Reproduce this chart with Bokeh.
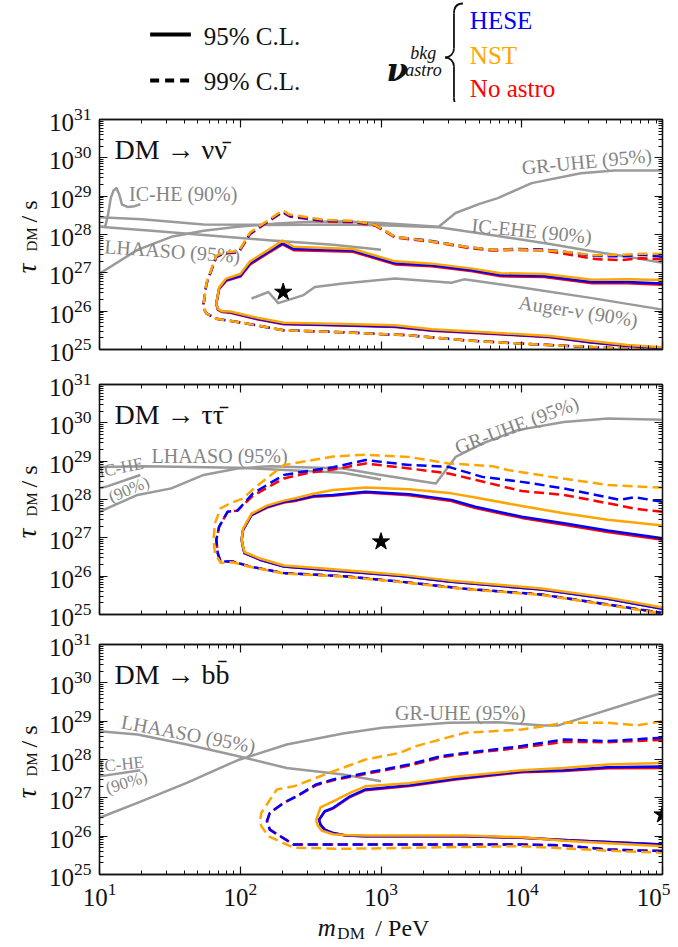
import math
from bokeh.plotting import figure
from bokeh.layouts import column, row
from bokeh.models import Range1d, LogAxis, FixedTicker, CustomJSTickFormatter
from bokeh.embed import file_html
from bokeh.resources import INLINE
from bokeh.core.properties import value

FONT = "Liberation Serif"
C_HESE = "#0000ff"
C_NST = "#ffa500"
C_NOASTRO = "#ff0000"
GREY_LINE = "#9a9a9a"
GREY_TEXT = "#858585"

X_DECADES = [1, 2, 3, 4, 5]          # log10(m_DM / PeV)
Y_DECADES = [25, 26, 27, 28, 29, 30, 31]  # log10(tau_DM / s)

# ---------------- Panel 1: DM -> nu nubar (log10 values) ----------------
NN95_X = [5.0, 4.75, 4.5, 4.16, 3.85, 3.65, 3.36, 3.1, 2.8, 2.6, 2.38, 2.3, 2.2, 2.07, 2.0, 1.9, 1.85, 1.83,
          1.84, 1.87, 1.93, 2.12, 2.31, 2.66, 3.1, 3.36, 3.83, 4.2, 4.49, 4.75, 5.0]
NN95_HESE = [26.72, 26.76, 26.76, 26.92, 26.94, 27.07, 27.20, 27.25, 27.58, 27.60, 27.62, 27.77, 27.55, 27.25, 26.92, 26.81, 26.60, 26.20,
             26.05, 25.99, 25.97, 25.80, 25.67, 25.64, 25.60, 25.50, 25.41, 25.33, 25.19, 25.10, 25.04]
NN95_NOASTRO = [26.69, 26.73, 26.73, 26.89, 26.91, 27.04, 27.17, 27.22, 27.55, 27.57, 27.59, 27.74, 27.52, 27.22, 26.90, 26.79, 26.58, 26.20,
                26.04, 25.98, 25.96, 25.79, 25.66, 25.63, 25.59, 25.49, 25.40, 25.32, 25.18, 25.09, 25.03]
NN95_NST = [26.81, 26.83, 26.82, 26.97, 26.99, 27.11, 27.24, 27.30, 27.62, 27.65, 27.68, 27.84, 27.60, 27.30, 26.97, 26.85, 26.62, 26.20,
            26.06, 26.00, 25.99, 25.83, 25.70, 25.67, 25.63, 25.53, 25.43, 25.35, 25.22, 25.12, 25.06]

NN99_X = [5.0, 4.85, 4.7, 4.52, 4.3, 4.16, 3.95, 3.79, 3.6, 3.36, 3.1, 2.96, 2.8, 2.6, 2.35, 2.3, 2.21, 2.07, 1.99, 1.88, 1.83, 1.76, 1.74,
          1.75, 1.76, 1.83, 1.98, 2.31, 2.73, 3.2, 3.6, 4.0, 4.3, 4.63, 5.0]
NN99_HESE = [27.42, 27.47, 27.43, 27.44, 27.55, 27.61, 27.62, 27.60, 27.68, 27.83, 27.94, 28.25, 28.34, 28.36, 28.49, 28.60, 28.38, 28.03, 27.55, 27.51, 27.42, 26.72, 26.20,
             26.00, 25.94, 25.80, 25.72, 25.50, 25.45, 25.37, 25.24, 25.15, 25.10, 25.04, 24.97]
NN99_NOASTRO = [27.35, 27.38, 27.33, 27.36, 27.50, 27.58, 27.60, 27.58, 27.66, 27.81, 27.92, 28.23, 28.32, 28.34, 28.47, 28.58, 28.36, 28.01, 27.54, 27.50, 27.41, 26.72, 26.20,
                26.00, 25.94, 25.80, 25.72, 25.50, 25.45, 25.37, 25.24, 25.15, 25.10, 25.04, 24.97]
NN99_NST = [27.49, 27.50, 27.47, 27.46, 27.55, 27.59, 27.61, 27.60, 27.68, 27.82, 27.94, 28.25, 28.36, 28.38, 28.52, 28.63, 28.40, 28.05, 27.57, 27.53, 27.44, 26.74, 26.20,
            26.00, 25.94, 25.80, 25.72, 25.50, 25.45, 25.37, 25.24, 25.15, 25.10, 25.04, 24.97]

NN_ICHE_X = [1.0, 1.04, 1.06, 1.08, 1.10, 1.12, 1.14, 1.16, 1.20, 1.25, 1.29]
NN_ICHE_Y = [28.2, 28.2, 28.5, 28.95, 29.15, 29.21, 29.05, 28.78, 28.72, 28.74, 28.79]
NN_ICEHE_X = [1.0, 1.3, 1.74, 2.2, 2.73, 3.0, 3.41, 3.83, 4.2, 4.49, 4.8, 5.0]
NN_ICEHE_Y = [28.45, 28.40, 28.26, 28.25, 28.26, 28.24, 28.19, 27.96, 27.75, 27.57, 27.39, 27.26]
NN_LHAASO_X = [1.0, 1.37, 1.74, 2.2, 2.66, 3.0]
NN_LHAASO_Y = [28.2, 28.1, 27.99, 27.85, 27.73, 27.6]
NN_GRUHE_X = [1.0, 1.27, 1.51, 1.74, 1.98, 2.26, 2.5, 2.73, 3.0, 3.41, 3.53, 3.7, 3.83, 4.07, 4.42, 4.66, 5.0]
NN_GRUHE_Y = [26.98, 27.6, 27.94, 28.10, 28.20, 28.29, 28.33, 28.34, 28.30, 28.20, 28.56, 28.8, 28.95, 29.34, 29.60, 29.67, 29.67]
NN_AUGER_X = [2.08, 2.20, 2.27, 2.45, 2.53, 2.73, 3.10, 3.50, 3.59, 4.0, 4.5, 5.0]
NN_AUGER_Y = [26.33, 26.50, 26.21, 26.42, 26.63, 26.72, 26.85, 26.74, 26.83, 26.62, 26.34, 26.04]
NN_STAR = (2.305, 26.50)

# ---------------- Panel 2: DM -> tau taubar ----------------
TT95_X = [5.0, 4.61, 4.30, 4.0, 3.67, 3.5, 3.2, 2.89, 2.66, 2.52, 2.40, 2.31, 2.19, 2.08, 2.02, 2.01,
          2.02, 2.03, 2.14, 2.31, 2.66, 3.13, 3.48, 4.14, 4.61, 5.0]
TT95_HESE = [26.99, 27.19, 27.38, 27.55, 27.81, 27.99, 28.14, 28.20, 28.12, 28.09, 27.99, 27.94, 27.81, 27.60, 27.21, 26.95,
             26.75, 26.60, 26.43, 26.25, 26.15, 26.01, 25.86, 25.65, 25.41, 25.15]
TT95_NOASTRO = [26.95, 27.15, 27.34, 27.52, 27.78, 27.96, 28.11, 28.18, 28.10, 28.07, 27.97, 27.92, 27.79, 27.59, 27.21, 26.95,
                26.75, 26.60, 26.43, 26.25, 26.15, 26.01, 25.86, 25.65, 25.41, 25.15]
TT95_NST = [27.32, 27.47, 27.64, 27.83, 28.05, 28.16, 28.27, 28.31, 28.25, 28.15, 28.04, 27.97, 27.84, 27.63, 27.24, 26.95,
            26.77, 26.63, 26.46, 26.28, 26.18, 26.04, 25.89, 25.68, 25.44, 25.18]

TT99_X = [5.0, 4.8, 4.70, 4.30, 4.0, 3.72, 3.48, 3.20, 2.89, 2.66, 2.49, 2.31, 2.09, 1.98, 1.91, 1.85, 1.83,
          1.84, 1.86, 1.95, 2.07, 2.31, 2.73, 3.13, 3.60, 4.14, 4.61, 5.0]
TT99_HESE = [27.94, 28.06, 27.99, 28.29, 28.46, 28.59, 28.85, 28.90, 29.03, 28.84, 28.75, 28.64, 28.16, 27.71, 27.68, 27.29, 26.95,
             26.60, 26.38, 26.38, 26.25, 26.08, 26.00, 25.86, 25.67, 25.52, 25.26, 25.04]
TT99_NOASTRO = [27.68, 27.76, 27.84, 28.12, 28.22, 28.47, 28.68, 28.81, 28.94, 28.78, 28.70, 28.55, 28.10, 27.71, 27.68, 27.29, 26.95,
                26.60, 26.38, 26.38, 26.25, 26.08, 26.00, 25.86, 25.67, 25.52, 25.26, 25.04]
TT99_NST_X = [5.0, 4.61, 4.21, 3.90, 3.79, 3.48, 3.20, 2.89, 2.66, 2.31, 2.11, 2.02, 1.93, 1.86, 1.82, 1.81,
              1.82, 1.86, 1.95, 2.07, 2.31, 2.73, 3.13, 3.60, 4.14, 4.61, 5.0]
TT99_NST = [28.31, 28.38, 28.59, 28.77, 28.87, 28.94, 29.11, 29.17, 29.12, 28.90, 28.33, 28.03, 27.90, 27.77, 27.38, 26.95,
            26.60, 26.35, 26.36, 26.24, 26.07, 25.99, 25.85, 25.66, 25.51, 25.25, 25.02]

TT_ICHE_X = [1.0, 1.06, 1.29]
TT_ICHE_Y = [28.29, 28.35, 28.64]
TT_LHAASO_X = [1.0, 1.32, 1.98, 2.73, 3.0]
TT_LHAASO_Y = [28.85, 28.87, 28.83, 28.70, 28.52]
TT_GRUHE_X = [1.0, 1.27, 1.51, 1.74, 1.98, 2.21, 2.73, 3.0, 3.39, 3.53, 3.72, 3.97, 4.30, 4.61, 5.0]
TT_GRUHE_Y = [27.68, 28.12, 28.29, 28.64, 28.81, 28.87, 28.81, 28.64, 28.42, 29.11, 29.46, 29.81, 30.02, 30.11, 30.08]
TT_STAR = (3.0, 26.90)

# ---------------- Panel 3: DM -> b bbar ----------------
BB95_X = [5.0, 4.61, 4.30, 4.0, 3.53, 3.20, 2.89, 2.78, 2.66, 2.60, 2.56,
          2.57, 2.60, 2.66, 2.75, 2.89, 3.60, 4.0, 4.30, 5.0]
BB95_HESE = [27.82, 27.80, 27.72, 27.69, 27.50, 27.33, 27.22, 27.04, 26.74, 26.65, 26.43,
             26.30, 26.17, 26.08, 26.02, 26.00, 26.00, 25.96, 25.90, 25.78]
BB95_NOASTRO = [27.78, 27.77, 27.70, 27.67, 27.48, 27.31, 27.20, 27.02, 26.72, 26.64, 26.43,
                26.30, 26.17, 26.08, 26.02, 26.00, 26.00, 25.96, 25.90, 25.78]
BB95_NST_X = [5.0, 4.61, 4.30, 4.0, 3.53, 3.20, 2.89, 2.78, 2.66, 2.57, 2.54,
              2.55, 2.58, 2.66, 2.75, 2.89, 3.60, 4.0, 4.30, 5.0]
BB95_NST = [27.91, 27.87, 27.78, 27.72, 27.55, 27.38, 27.30, 27.13, 26.91, 26.75, 26.43,
            26.28, 26.14, 26.05, 26.03, 26.02, 26.02, 25.97, 25.88, 25.74]

BB99_X = [5.0, 4.61, 4.30, 4.0, 3.60, 3.43, 3.20, 2.66, 2.54, 2.40, 2.31, 2.21, 2.19,
          2.21, 2.38, 2.73, 4.0, 4.30, 4.61, 5.0]
BB99_HESE = [28.57, 28.48, 28.52, 28.35, 28.17, 28.09, 27.87, 27.48, 27.35, 27.04, 26.87, 26.61, 26.39,
             26.17, 25.78, 25.78, 25.78, 25.76, 25.65, 25.61]
BB99_NOASTRO = [28.51, 28.45, 28.46, 28.31, 28.15, 28.06, 27.84, 27.46, 27.33, 27.04, 26.87, 26.61, 26.39,
                26.17, 25.78, 25.78, 25.78, 25.76, 25.65, 25.61]
BB99_NST_X = [5.0, 4.82, 4.61, 4.30, 4.19, 4.0, 3.60, 3.25, 3.13, 2.89, 2.66, 2.38, 2.26, 2.15, 2.14,
              2.15, 2.20, 2.38, 2.73, 4.0, 4.61, 5.0]
BB99_NST = [29.00, 28.89, 28.96, 28.96, 28.89, 28.78, 28.70, 28.35, 28.17, 28.00, 27.69, 27.30, 27.22, 26.61, 26.40,
            26.26, 26.00, 25.70, 25.67, 25.74, 25.62, 25.57]

BB_ICHE_X = [1.0, 1.29]
BB_ICHE_Y = [27.56, 27.72]
BB_LHAASO_X = [1.0, 1.27, 1.62, 1.98, 2.33, 2.73, 3.0]
BB_LHAASO_Y = [28.74, 28.65, 28.39, 28.09, 27.78, 27.61, 27.43]
BB_GRUHE_X = [1.0, 1.27, 1.62, 1.98, 2.33, 2.73, 3.01, 3.48, 3.83, 4.16, 4.26, 5.0]
BB_GRUHE_Y = [26.48, 26.87, 27.39, 27.98, 28.39, 28.68, 28.83, 28.96, 28.97, 28.89, 28.89, 29.74]
BB_STAR = (5.0, 26.56)

# text annotations: (text, log10 x, log10 y of baseline, angle rad, size)
NN_LABELS = [("IC-HE (90%)", 1.21, 28.90, 0.0, 20), ("LHAASO (95%)", 1.035, 27.55, -0.072, 20),
             ("GR-UHE (95%)", 4.0, 29.60, 0.096, 20), ("IC-EHE (90%)", 3.645, 28.10, -0.097, 20),
             ("Auger-\u03bd (90%)", 3.98, 26.10, -0.155, 20)]
TT_LABELS = [("LHAASO (95%)", 1.37, 28.98, 0.0, 20), ("IC-HE", 0.995, 28.59, 0.2, 17),
             ("(90%)", 1.07, 27.92, 0.4, 17), ("GR-UHE (95%)", 3.53, 29.20, 0.36, 20)]
BB_LABELS = [("LHAASO (95%)", 1.157, 28.85, -0.185, 20), ("IC-HE", 0.995, 27.69, 0.1, 17),
             ("(90%)", 1.047, 27.11, 0.3, 17), ("GR-UHE (95%)", 3.10, 29.07, 0.0, 20)]

TITLES = ["DM \u2192 \u03bd\u03bd\u0304", "DM \u2192 \u03c4\u03c4\u0304", "DM \u2192 bb\u0304"]

# ---------------- layout geometry (pixels) ----------------
LAB_W = 45
BORDER_L = 50
BORDER_R = 8
FRAME_W = 567
W = BORDER_L + FRAME_W + BORDER_R
FRAME_H = 230
PX_PER_DEC_Y = FRAME_H / (Y_DECADES[-1] - Y_DECADES[0])
HDR_H = 102
P_BORDERS = [(17, 17), (18, 15), (15, 38)]
XLAB_H = 31
BASE_SHIFT = 0.28  # svg baseline correction (fraction of font size)


def lin(a):
    return [10.0 ** v for v in a]


def shift_log(size):
    return BASE_SHIFT * size / PX_PER_DEC_Y


def style_axis(ax, show_labels):
    ax.major_tick_in = 8
    ax.major_tick_out = 0
    ax.minor_tick_in = 4
    ax.minor_tick_out = 0
    ax.axis_line_color = "#111111"
    ax.axis_line_width = 1.3
    ax.major_tick_line_color = "#111111"
    ax.minor_tick_line_color = "#111111"
    ax.major_tick_line_width = 1.2
    ax.minor_tick_line_width = 1.0
    ax.major_label_text_font = FONT
    ax.major_label_text_font_size = "25px"
    ax.major_label_text_color = "#111111"
    ax.major_label_standoff = 8
    if not show_labels:
        ax.formatter = CustomJSTickFormatter(code="return ''")
        ax.major_label_standoff = 0


def make_panel(border_top, border_bottom, show_x_labels):
    xt = FixedTicker(ticks=[10.0 ** k for k in X_DECADES],
                     minor_ticks=[m * 10.0 ** k for k in X_DECADES[:-1] for m in range(2, 10)])
    yt = FixedTicker(ticks=[10.0 ** k for k in Y_DECADES],
                     minor_ticks=[m * 10.0 ** k for k in Y_DECADES[:-1] for m in range(2, 10)])
    p = figure(width=W, height=border_top + FRAME_H + border_bottom,
               x_axis_type="log", y_axis_type="log",
               x_range=Range1d(10.0 ** X_DECADES[0], 10.0 ** X_DECADES[-1]),
               y_range=Range1d(10.0 ** Y_DECADES[0], 10.0 ** Y_DECADES[-1]),
               output_backend="svg", toolbar_location=None,
               min_border_left=BORDER_L, min_border_right=BORDER_R,
               min_border_top=border_top, min_border_bottom=border_bottom)
    p.xgrid.visible = False
    p.ygrid.visible = False
    p.outline_line_color = "#111111"
    p.outline_line_width = 1.3
    p.xaxis.ticker = xt
    p.yaxis.ticker = yt
    style_axis(p.xaxis[0], show_x_labels)
    style_axis(p.yaxis[0], True)
    top = LogAxis(ticker=xt)
    right = LogAxis(ticker=yt)
    style_axis(top, False)
    style_axis(right, False)
    p.add_layout(top, "above")
    p.add_layout(right, "right")
    return p


def draw_grey(p, xs, ys):
    p.line(lin(xs), lin(ys), line_color=GREY_LINE, line_width=2.5, line_join="round")


def draw_contour(p, xs, ys, color, dashed):
    p.line(lin(xs), lin(ys), line_color=color, line_width=2.5, line_join="round",
           line_dash="10 5" if dashed else "solid")


def draw_labels(p, labels):
    for txt, lx, ly, ang, size in labels:
        p.text(x=[10.0 ** lx], y=[10.0 ** (ly + shift_log(size))], text=[txt], angle=ang,
               text_font=value(FONT), text_font_size=f"{size}px", text_color=GREY_TEXT,
               text_baseline="alphabetic", text_align="left")


def draw_title(p, title):
    p.text(x=[10.0 ** 1.106], y=[10.0 ** (30.0 + shift_log(28))], text=[title], text_font=value(FONT),
           text_font_size="28px", text_color="#111111", text_baseline="alphabetic")


def draw_star(p, star):
    p.scatter([10.0 ** star[0]], [10.0 ** star[1]], marker="star", size=18, color="black")


def blank_fig(width, height, xr, yr, **kw):
    f = figure(width=width, height=height, x_range=xr, y_range=yr, output_backend="svg",
               toolbar_location=None, x_axis_location=None, y_axis_location=None,
               min_border_left=kw.get("bl", 0), min_border_right=kw.get("br", 0),
               min_border_top=0, min_border_bottom=0, x_axis_type=kw.get("xtype", "linear"))
    f.xgrid.visible = False
    f.ygrid.visible = False
    f.outline_line_color = None
    return f


# ---------- header legend (data coords = page pixels) ----------
hdr = blank_fig(W, HDR_H, Range1d(LAB_W + BORDER_L, LAB_W + BORDER_L + FRAME_W), Range1d(HDR_H, 0),
                bl=BORDER_L, br=BORDER_R)
hdr.line([146, 187], [34, 34], line_color="black", line_width=4)
hdr.line([146, 187], [80, 80], line_color="black", line_width=4, line_dash="9 6")
hdr.text(x=[200, 200], y=[43 - 7, 88 - 7], text=["95% C.L.", "99% C.L."], text_font=value(FONT),
         text_font_size="25px", text_color="#111111", text_baseline="alphabetic")
hdr.text(x=[384], y=[78 - 9], text=["\u03bd"], text_font=value("DejaVu Serif"), text_font_style="bold italic",
         text_font_size="31px", text_color="#111111", text_baseline="alphabetic")
hdr.text(x=[408, 403], y=[57 - 5, 74 - 5], text=["bkg", "astro"], text_font=value(FONT), text_font_style="italic",
         text_font_size="18px", text_color="#111111", text_baseline="alphabetic")
# brace
hdr.bezier(x0=[461, 452, 443, 452], y0=[3, 48, 57, 97], x1=[452, 443, 452, 461], y1=[13, 57, 66, 107],
           cx0=[455, 452, 448, 452], cy0=[3, 53, 57, 103], cx1=[452, 448, 452, 455], cy1=[7, 57, 61, 107],
           line_color="#111111", line_width=1.8)
hdr.segment(x0=[452, 452], y0=[13, 66], x1=[452, 452], y1=[48, 97], line_color="#111111", line_width=1.8)
hdr.text(x=[468, 468, 468], y=[27 - 7, 62 - 7, 95 - 7], text=["HESE", "NST", "No astro"], text_font=value(FONT),
         text_font_size="25px", text_color=[C_HESE, C_NST, C_NOASTRO], text_baseline="alphabetic")

# ---------- panel 1 ----------
p1 = make_panel(*P_BORDERS[0], False)
for xs, ys in [(NN_ICHE_X, NN_ICHE_Y), (NN_ICEHE_X, NN_ICEHE_Y), (NN_LHAASO_X, NN_LHAASO_Y),
               (NN_GRUHE_X, NN_GRUHE_Y), (NN_AUGER_X, NN_AUGER_Y)]:
    draw_grey(p1, xs, ys)
draw_labels(p1, NN_LABELS)
draw_contour(p1, NN95_X, NN95_NOASTRO, C_NOASTRO, False)
draw_contour(p1, NN95_X, NN95_HESE, C_HESE, False)
draw_contour(p1, NN95_X, NN95_NST, C_NST, False)
draw_contour(p1, NN99_X, NN99_NOASTRO, C_NOASTRO, True)
draw_contour(p1, NN99_X, NN99_HESE, C_HESE, True)
draw_contour(p1, NN99_X, NN99_NST, C_NST, True)
draw_star(p1, NN_STAR)
draw_title(p1, TITLES[0])

# ---------- panel 2 ----------
p2 = make_panel(*P_BORDERS[1], False)
for xs, ys in [(TT_ICHE_X, TT_ICHE_Y), (TT_LHAASO_X, TT_LHAASO_Y), (TT_GRUHE_X, TT_GRUHE_Y)]:
    draw_grey(p2, xs, ys)
draw_labels(p2, TT_LABELS)
draw_contour(p2, TT95_X, TT95_NOASTRO, C_NOASTRO, False)
draw_contour(p2, TT95_X, TT95_HESE, C_HESE, False)
draw_contour(p2, TT95_X, TT95_NST, C_NST, False)
draw_contour(p2, TT99_X, TT99_NOASTRO, C_NOASTRO, True)
draw_contour(p2, TT99_X, TT99_HESE, C_HESE, True)
draw_contour(p2, TT99_NST_X, TT99_NST, C_NST, True)
draw_star(p2, TT_STAR)
draw_title(p2, TITLES[1])

# ---------- panel 3 ----------
p3 = make_panel(*P_BORDERS[2], True)
for xs, ys in [(BB_ICHE_X, BB_ICHE_Y), (BB_LHAASO_X, BB_LHAASO_Y), (BB_GRUHE_X, BB_GRUHE_Y)]:
    draw_grey(p3, xs, ys)
draw_labels(p3, BB_LABELS)
draw_contour(p3, BB95_X, BB95_NOASTRO, C_NOASTRO, False)
draw_contour(p3, BB95_X, BB95_HESE, C_HESE, False)
draw_contour(p3, BB95_NST_X, BB95_NST, C_NST, False)
draw_contour(p3, BB99_X, BB99_NOASTRO, C_NOASTRO, True)
draw_contour(p3, BB99_X, BB99_HESE, C_HESE, True)
draw_contour(p3, BB99_NST_X, BB99_NST, C_NST, True)
draw_star(p3, BB_STAR)
draw_title(p3, TITLES[2])

# ---------- x-axis label strip: m_DM / PeV ----------
xlab = blank_fig(W, XLAB_H, Range1d(10.0 ** X_DECADES[0], 10.0 ** X_DECADES[-1]), Range1d(XLAB_H, 0),
                 bl=BORDER_L, br=BORDER_R, xtype="log")
xlab.text(x=[10.0 ** 2.55], y=[22 - 7], text=["m"], text_font=value(FONT), text_font_style="italic",
          text_font_size="25px", text_color="#111111", text_baseline="alphabetic")
xlab.text(x=[10.0 ** 2.69], y=[26 - 5], text=["DM"], text_font=value(FONT),
          text_font_size="17px", text_color="#111111", text_baseline="alphabetic")
xlab.text(x=[10.0 ** 2.96], y=[22 - 7], text=["/ PeV"], text_font=value(FONT),
          text_font_size="24px", text_color="#111111", text_baseline="alphabetic")

# ---------- y-axis label strip: tau_DM / s (one per panel), upward y in pixels from bottom ----------
TOTAL_H = HDR_H + sum(t + FRAME_H + b for t, b in P_BORDERS) + XLAB_H
ylab = blank_fig(LAB_W, TOTAL_H, Range1d(0, LAB_W), Range1d(0, TOTAL_H))
frame_tops = []
acc = HDR_H
for t, b in P_BORDERS:
    frame_tops.append(acc + t)
    acc += t + FRAME_H + b
# label pieces: (text, x centre, offset of centre below frame top, size, style)
YLAB_PARTS = [("\u03c4", 26, 149, 27, "italic"), ("DM", 31, 120, 15, "normal"), ("/ s", 28, 92, 24, "normal")]
for ft in frame_tops:
    for txt, cx, dy, size, style in YLAB_PARTS:
        ylab.text(x=[cx], y=[TOTAL_H - (ft + dy)], text=[txt], angle=math.pi / 2, text_font=value(FONT),
                  text_font_style=style, text_font_size=f"{size}px", text_color="#111111",
                  text_align="center", text_baseline="middle")

layout = row(ylab, column(hdr, p1, p2, p3, xlab, spacing=0), spacing=0)
open("out.html", "w").write(file_html(layout, INLINE))
